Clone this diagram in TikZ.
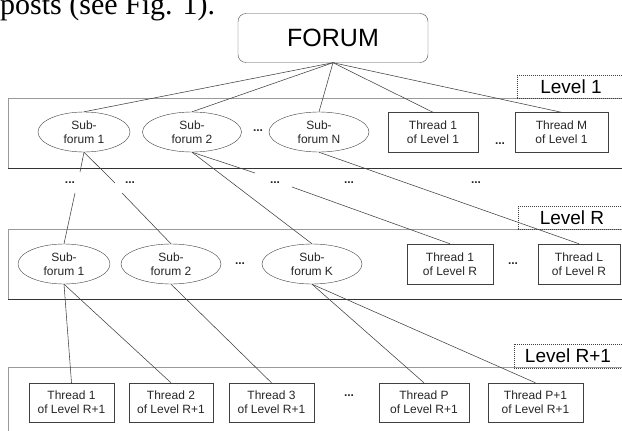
\documentclass[tikz,border=0pt]{standalone}
\usepackage{fontspec}
\setmainfont{Liberation Sans}
\newfontfamily\pageserif{Liberation Serif}
\usetikzlibrary{shapes.geometric}
\tikzset{
  basenode/.style = {align=center, inner sep=0pt, text centered,
    font=\fontsize{12}{14}\selectfont, text=black!85},
  forum_n/.style = {basenode, rectangle, rounded corners=8pt, draw=black!70,
    minimum width=190pt, minimum height=49pt,
    font=\fontsize{25}{30}\selectfont, text=black},% racine
  sub_f/.style = {basenode, ellipse, draw=black!75,
    minimum width=#1, minimum height=40pt},% sous-forum
  thr_b/.style = {basenode, rectangle, draw=black!75,
    minimum width=#1, minimum height=40pt},% fil de discussion
  lvl_l/.style = {basenode, rectangle, draw=black!75, densely dotted,
    line width=1pt, minimum width=108pt, minimum height=23pt,
    font=\fontsize{19}{22}\selectfont, text=black},% etiquette de niveau
  band_r/.style = {draw=black!40, line width=1pt},
  band_b/.style = {draw=black!80, line width=1pt},
  dots_n/.style = {basenode, font=\fontsize{12}{14}\selectfont\bfseries},
  link/.style = {draw=black!75, line width=0.55pt}
}
\begin{document}
\begin{tikzpicture}[x=1pt, y=-1pt]
\clip (0,0) rectangle (622,431);
\node [anchor=base west, inner sep=0pt, font=\pageserif\fontsize{30}{34}\selectfont]
  (caption) at (0,14) {posts (see Fig. 1).};
% bandes des niveaux
\draw [band_r] (8,168) -- (8,98) -- (640,98);
\draw [band_b] (8,168) -- (640,168);
\draw [band_r] (8,299) -- (8,229) -- (640,229);
\draw [band_b] (8,299) -- (640,299);
\draw [band_r] (8,440) -- (8,367) -- (640,367);
\node [lvl_l] (lvl1) at (571,87) {Level 1};
\node [lvl_l] (lvlR) at (572,218) {Level R};
\node [lvl_l, minimum height=24pt] (lvlRR) at (568,356) {Level R+1};
% niveau 1
\node [forum_n] (forum) at (333,38) {FORUM};
\node [sub_f=92pt] (sf1a) at (84,132) {Sub-\\forum 1};
\node [sub_f=99pt] (sf2a) at (192,132) {Sub-\\forum 2};
\node [dots_n] (dd1) at (258,131) {...};
\node [sub_f=100pt] (sfNa) at (319,132) {Sub-\\forum N};
\node [thr_b=90pt] (thr1a) at (433,132.5) {Thread 1\\of Level 1};
\node [dots_n] (dd2) at (500,144) {...};
\node [thr_b=93pt] (thrMa) at (561.5,132.5) {Thread M\\of Level 1};
% niveaux intermediaires
\node [dots_n] (mid1) at (70,183) {...};
\node [dots_n] (mid2) at (130,183) {...};
\node [dots_n] (mid3) at (275,183) {...};
\node [dots_n] (mid4) at (349,183) {...};
\node [dots_n] (mid5) at (476,183) {...};
% niveau R
\node [sub_f=92pt] (sf1r) at (64,264) {Sub-\\forum 1};
\node [sub_f=100pt] (sf2r) at (171,264) {Sub-\\forum 2};
\node [dots_n] (dd3) at (240,264) {...};
\node [sub_f=100pt] (sfKr) at (312,264) {Sub-\\forum K};
\node [thr_b=86pt] (thr1r) at (450,264) {Thread 1\\of Level R};
\node [dots_n] (dd4) at (513,264) {...};
\node [thr_b=82pt] (thrLr) at (579,264) {Thread L\\of Level R};
% niveau R+1
\node [thr_b=85pt, minimum height=39pt] (thA) at (71.5,402.5) {Thread 1\\of Level R+1};
\node [thr_b=84pt, minimum height=39pt] (thB) at (171,402.5) {Thread 2\\of Level R+1};
\node [thr_b=85pt, minimum height=39pt] (thC) at (271.5,402.5) {Thread 3\\of Level R+1};
\node [dots_n] (dd5) at (349,396) {...};
\node [thr_b=90pt, minimum height=39pt] (thP) at (424,402.5) {Thread P\\of Level R+1};
\node [thr_b=95pt, minimum height=39pt] (thQ) at (535.5,402.5) {Thread P+1\\of Level R+1};
% points de coupure
\coordinate (c1a) at (80,172);
\coordinate (c1b) at (75,193);
\coordinate (c2a) at (115,183);
\coordinate (c2b) at (122,193);
\coordinate (c3a) at (255,173);
\coordinate (c3b) at (292,187);
% liens
\foreach \t in {sf1a, sf2a, sfNa, thr1a, thrMa}
  \draw [link] (forum.south) -- (\t.north);
\draw [link] (sf1a.south) -- (c1a);
\draw [link] (c1b) -- (sf1r.north);
\draw [link] (sf1a.south) -- (c2a);
\draw [link] (c2b) -- (sf2r.north);
\draw [link] (sf2a.south) -- (c3a);
\draw [link] (c3b) -- (thr1r.north);
\draw [link] (sf2a.south) -- (sfKr.north);
\draw [link] (sfNa.south) -- (thrLr.north);
\draw [link] (sf1r.south) -- (thA.north);
\draw [link] (sf1r.south) -- (thB.north);
\draw [link] (sf2r.south) -- (thC.north);
\draw [link] (sfKr.south) -- (thP.north);
\draw [link] (sfKr.south) -- (thQ.north);
\end{tikzpicture}
\end{document}
